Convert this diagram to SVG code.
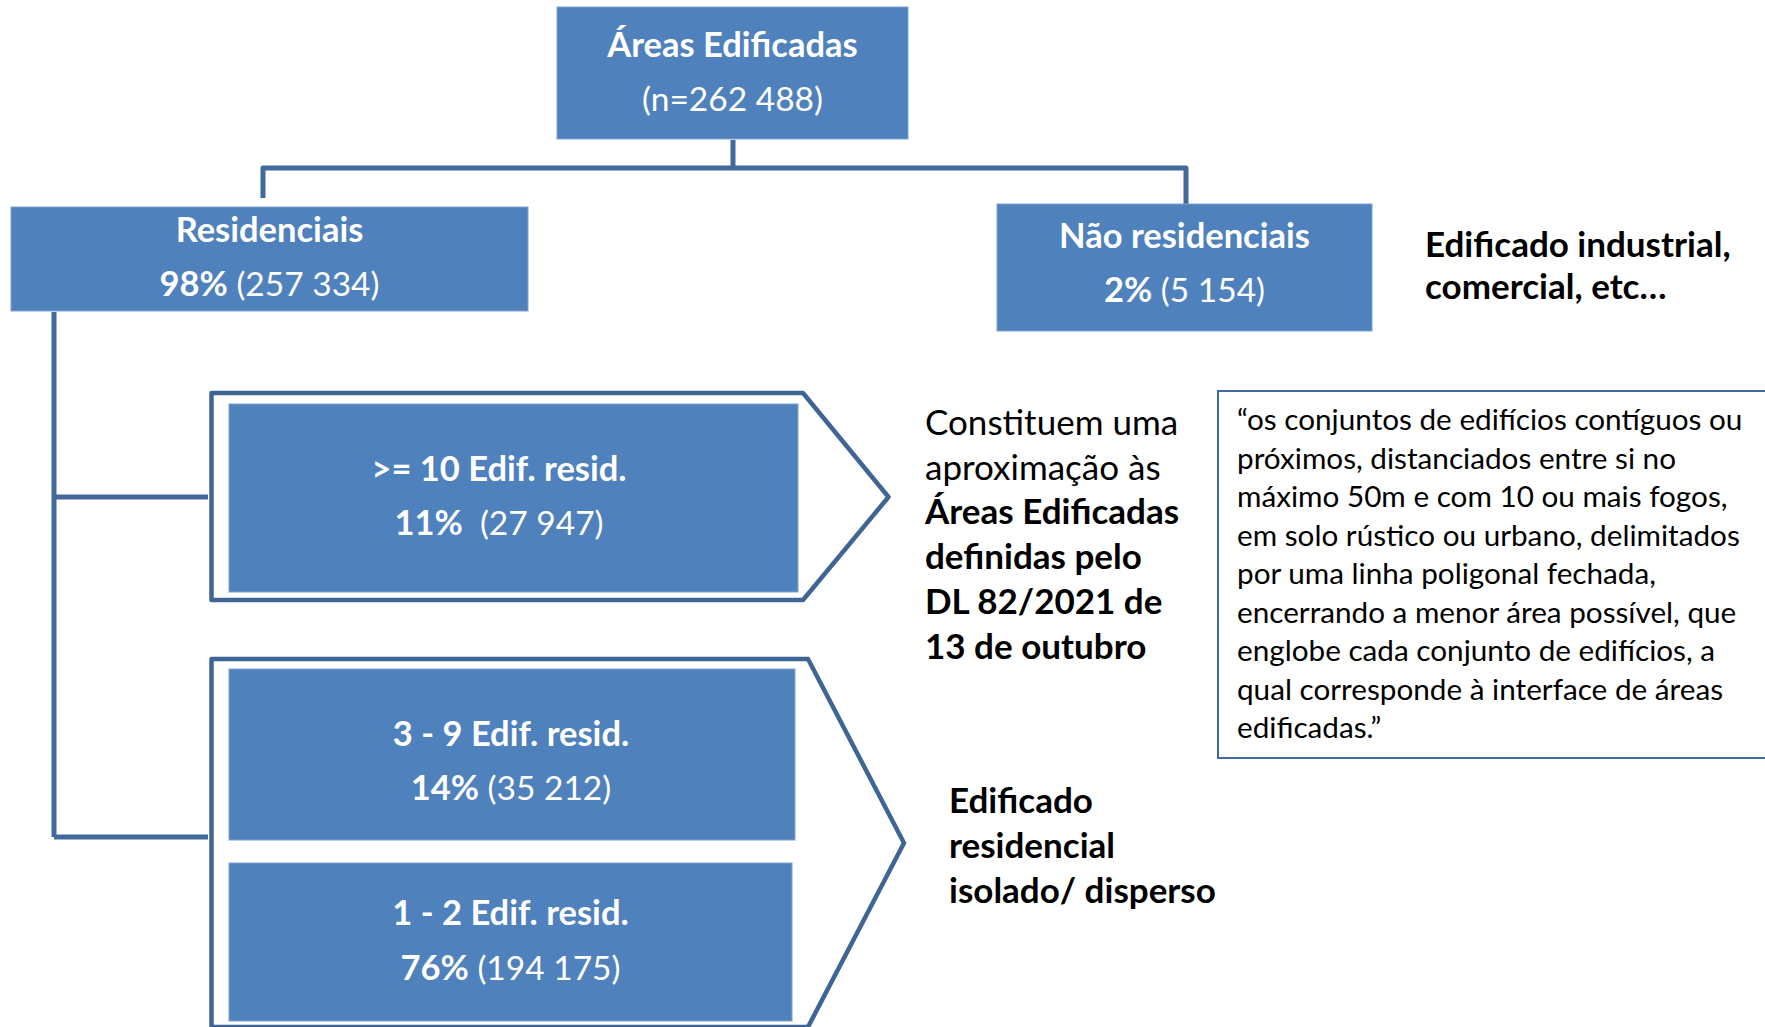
<svg xmlns="http://www.w3.org/2000/svg" width="1765" height="1027" viewBox="0 0 1765 1027">
<style>
.box{fill:#4F81BD;stroke:#7FA2CF;stroke-width:1}
.conn{fill:none;stroke:#41699B;stroke-width:5;stroke-linejoin:round}
.chev{fill:#FFFFFF;stroke:#3E6593;stroke-width:4.5;stroke-linejoin:round}
.t{font-family:Lato,"Open Sans",sans-serif;font-size:33.5px;fill:#FFFFFF;text-anchor:middle}
.b{font-weight:bold;font-size:34.5px}
.side{font-family:Lato,"Open Sans",sans-serif;fill:#000000;font-size:35px}
.q{font-family:Lato,"Open Sans",sans-serif;font-size:29.7px;fill:#000000}
</style>
<rect width="1765" height="1027" fill="#FFFFFF"/>
<g id="connectors">
<path class="conn" d="M733,140 V168 M263,198 V168 H1186 V205"/>
<path class="conn" stroke-width="4.5" d="M54,312 V837 M54,497 H208 M54,837 H208"/>
</g>
<g id="areas">
<rect class="box" x="557" y="7" width="351" height="132"/>
<text class="t b" x="732.5" y="57">Áreas Edificadas</text>
<text class="t" x="732.5" y="111">(n=262 488)</text>
</g>
<g id="residenciais">
<rect class="box" x="11" y="207" width="517" height="104"/>
<text class="t b" x="269.5" y="242">Residenciais</text>
<text class="t" x="269.5" y="296"><tspan class="b">98%</tspan> (257 334)</text>
</g>
<g id="nao-residenciais">
<rect class="box" x="997" y="204" width="375" height="127"/>
<text class="t b" x="1184.5" y="248">Não residenciais</text>
<text class="t" x="1184.5" y="302"><tspan class="b">2%</tspan> (5 154)</text>
</g>
<g id="nao-res-label">
<text class="side b" x="1425" y="257">Edificado industrial,</text>
<text class="side b" x="1425" y="299">comercial, etc…</text>
</g>
<g id="grupo-10">
<polygon class="chev" points="211.5,393 803,393 888.5,497 803,600 211.5,600"/>
<rect class="box" x="229" y="404" width="569" height="188"/>
<text class="t b" x="499" y="481">&gt;= 10 Edif. resid.</text>
<text class="t" x="499" y="535" xml:space="preserve"><tspan class="b">11%</tspan>  (27 947)</text>
</g>
<g id="grupo-disperso">
<polygon class="chev" points="211.5,659 808,659 904,843 808,1027 211.5,1027"/>
<rect class="box" x="229" y="669" width="566" height="171"/>
<text class="t b" x="511" y="746">3 - 9 Edif. resid.</text>
<text class="t" x="511" y="800"><tspan class="b">14%</tspan> (35 212)</text>
<rect class="box" x="229" y="863" width="563" height="158"/>
<text class="t b" x="510.5" y="925">1 - 2 Edif. resid.</text>
<text class="t" x="510.5" y="979.5"><tspan class="b">76%</tspan> (194 175)</text>
</g>
<g id="aproximacao-label">
<text class="side" x="925" y="435">Constituem uma</text>
<text class="side" x="925" y="480">aproximação às</text>
<text class="side b" x="925" y="524">Áreas Edificadas</text>
<text class="side b" x="925" y="569">definidas pelo</text>
<text class="side b" x="925" y="614">DL 82/2021 de</text>
<text class="side b" x="925" y="659">13 de outubro</text>
</g>
<g id="disperso-label">
<text class="side b" x="949" y="813">Edificado</text>
<text class="side b" x="949" y="858">residencial</text>
<text class="side b" x="949" y="903">isolado/ disperso</text>
</g>
<g id="definicao">
<rect x="1218" y="391" width="560" height="367" fill="none" stroke="#41699B" stroke-width="2"/>
<text class="q" x="1237" y="430">“os conjuntos de edifícios contíguos ou</text>
<text class="q" x="1237" y="468.5">próximos, distanciados entre si no</text>
<text class="q" x="1237" y="507">máximo 50m e com 10 ou mais fogos,</text>
<text class="q" x="1237" y="545.5">em solo rústico ou urbano, delimitados</text>
<text class="q" x="1237" y="584">por uma linha poligonal fechada,</text>
<text class="q" x="1237" y="622.5">encerrando a menor área possível, que</text>
<text class="q" x="1237" y="661">englobe cada conjunto de edifícios, a</text>
<text class="q" x="1237" y="699.5">qual corresponde à interface de áreas</text>
<text class="q" x="1237" y="738">edificadas.”</text>
</g>
</svg>
